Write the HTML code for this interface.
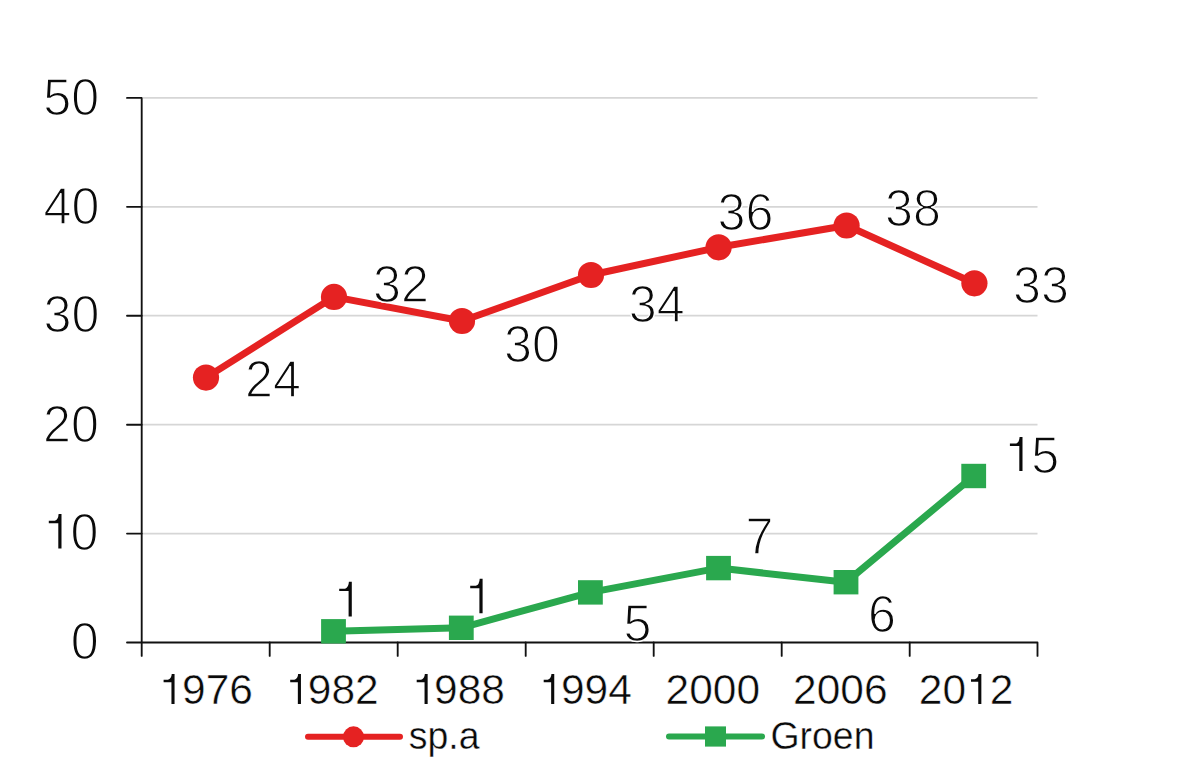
<!DOCTYPE html><html><head><meta charset="utf-8"><style>html,body{margin:0;padding:0;background:#fff;width:1200px;height:760px;overflow:hidden}svg{display:block}</style></head><body>
<svg width="1200" height="760" viewBox="0 0 1200 760">
<style>text{font-family:"Liberation Sans",sans-serif;fill:#0a0a0a;stroke:#fff}.h{fill:none;stroke:none}</style>
<line x1="143" y1="533.6" x2="1037.5" y2="533.6" stroke="#d6d6d6" stroke-width="1.7"/>
<line x1="143" y1="424.7" x2="1037.5" y2="424.7" stroke="#d6d6d6" stroke-width="1.7"/>
<line x1="143" y1="315.7" x2="1037.5" y2="315.7" stroke="#d6d6d6" stroke-width="1.7"/>
<line x1="143" y1="206.8" x2="1037.5" y2="206.8" stroke="#d6d6d6" stroke-width="1.7"/>
<line x1="143" y1="97.9" x2="1037.5" y2="97.9" stroke="#d6d6d6" stroke-width="1.7"/>
<path d="M127 97.9 H141.7 V655.9" stroke="#111" stroke-width="1.85" fill="none" stroke-linecap="round" stroke-linejoin="round"/>
<path d="M127 642.5 H1037.5 V655.9" stroke="#111" stroke-width="1.85" fill="none" stroke-linecap="round" stroke-linejoin="round"/>
<line x1="127" y1="533.6" x2="141.7" y2="533.6" stroke="#111" stroke-width="1.85" fill="none" stroke-linecap="round" stroke-linejoin="round"/>
<line x1="127" y1="424.7" x2="141.7" y2="424.7" stroke="#111" stroke-width="1.85" fill="none" stroke-linecap="round" stroke-linejoin="round"/>
<line x1="127" y1="315.7" x2="141.7" y2="315.7" stroke="#111" stroke-width="1.85" fill="none" stroke-linecap="round" stroke-linejoin="round"/>
<line x1="127" y1="206.8" x2="141.7" y2="206.8" stroke="#111" stroke-width="1.85" fill="none" stroke-linecap="round" stroke-linejoin="round"/>
<line x1="269.7" y1="642.5" x2="269.7" y2="655.9" stroke="#111" stroke-width="1.85" fill="none" stroke-linecap="round" stroke-linejoin="round"/>
<line x1="397.7" y1="642.5" x2="397.7" y2="655.9" stroke="#111" stroke-width="1.85" fill="none" stroke-linecap="round" stroke-linejoin="round"/>
<line x1="525.7" y1="642.5" x2="525.7" y2="655.9" stroke="#111" stroke-width="1.85" fill="none" stroke-linecap="round" stroke-linejoin="round"/>
<line x1="653.7" y1="642.5" x2="653.7" y2="655.9" stroke="#111" stroke-width="1.85" fill="none" stroke-linecap="round" stroke-linejoin="round"/>
<line x1="781.7" y1="642.5" x2="781.7" y2="655.9" stroke="#111" stroke-width="1.85" fill="none" stroke-linecap="round" stroke-linejoin="round"/>
<line x1="909.7" y1="642.5" x2="909.7" y2="655.9" stroke="#111" stroke-width="1.85" fill="none" stroke-linecap="round" stroke-linejoin="round"/>
<polyline points="206.0,377.6 334.0,296.9 462,321 591,275 718.6,247.3 846.6,225.5 974.4,283.3" fill="none" stroke="#e52222" stroke-width="7" stroke-linejoin="round"/>
<circle cx="206.0" cy="377.6" r="13.1" fill="#e52222"/>
<circle cx="334.0" cy="296.9" r="13.1" fill="#e52222"/>
<circle cx="462" cy="321" r="13.1" fill="#e52222"/>
<circle cx="591" cy="275" r="13.1" fill="#e52222"/>
<circle cx="718.6" cy="247.3" r="13.1" fill="#e52222"/>
<circle cx="846.6" cy="225.5" r="13.1" fill="#e52222"/>
<circle cx="974.4" cy="283.3" r="13.1" fill="#e52222"/>
<polyline points="333.5,631.3 461.3,627.8 590.4,592.4 718.5,568.1 846,582.2 973.7,476" fill="none" stroke="#2aa84e" stroke-width="7" stroke-linejoin="round"/>
<rect x="321.1" y="619.1" width="24.8" height="24.4" fill="#2aa84e"/>
<rect x="448.9" y="615.6" width="24.8" height="24.4" fill="#2aa84e"/>
<rect x="578.0" y="580.2" width="24.8" height="24.4" fill="#2aa84e"/>
<rect x="706.1" y="555.9" width="24.8" height="24.4" fill="#2aa84e"/>
<rect x="833.6" y="570.0" width="24.8" height="24.4" fill="#2aa84e"/>
<rect x="961.3" y="463.8" width="24.8" height="24.4" fill="#2aa84e"/>
<line x1="308" y1="736.7" x2="400" y2="736.7" stroke="#e52222" stroke-width="6" stroke-linecap="round"/>
<circle cx="353.5" cy="736.8" r="10.5" fill="#e52222"/>
<line x1="669" y1="736.4" x2="762" y2="736.4" stroke="#2aa84e" stroke-width="6" stroke-linecap="round"/>
<rect x="705" y="726.4" width="21" height="20.2" fill="#2aa84e"/>
<text transform="translate(43.25,114.50) scale(0.975,1)" font-size="51.5" stroke-width="1.4">50</text>
<text transform="translate(43.50,223.95) scale(0.975,1)" font-size="51.5" stroke-width="1.4">40</text>
<text transform="translate(43.50,332.20) scale(0.975,1)" font-size="51.5" stroke-width="1.4">30</text>
<text transform="translate(43.00,441.80) scale(0.975,1)" font-size="51.5" stroke-width="1.4">20</text>
<text transform="translate(42.65,549.75) scale(0.975,1)" font-size="51.5" stroke-width="1.4"><tspan class="h">1</tspan>0</text>
<path d="M61.50,514.00 L61.50,548.40 L58.30,548.40 L58.30,523.20 L48.80,523.20 L48.80,520.80 L54.80,520.80 Q58.30,519.80 58.60,514.00 Z" fill="#0a0a0a"/>
<text transform="translate(70.75,659.20) scale(0.975,1)" font-size="51.5" stroke-width="1.4">0</text>
<text transform="translate(244.95,396.55) scale(0.975,1)" font-size="51.5" stroke-width="1.4">24</text>
<text transform="translate(373.05,301.60) scale(0.975,1)" font-size="51.5" stroke-width="1.4">32</text>
<text transform="translate(504.05,362.45) scale(0.975,1)" font-size="51.5" stroke-width="1.4">30</text>
<text transform="translate(628.75,322.15) scale(0.975,1)" font-size="51.5" stroke-width="1.4">34</text>
<text transform="translate(717.50,229.62) scale(0.975,1)" font-size="51.5" stroke-width="1.4">36</text>
<text transform="translate(884.95,226.00) scale(0.975,1)" font-size="51.5" stroke-width="1.4">38</text>
<text transform="translate(1013.00,302.65) scale(0.975,1)" font-size="51.5" stroke-width="1.4">33</text>
<path d="M351.80,581.80 L351.80,616.50 L348.60,616.50 L348.60,591.10 L339.20,591.10 L339.20,588.70 L345.10,588.70 Q348.60,587.70 348.90,581.80 Z" fill="#0a0a0a"/>
<path d="M482.60,578.80 L482.60,613.20 L479.40,613.20 L479.40,588.20 L470.20,588.20 L470.20,585.80 L475.90,585.80 Q479.40,584.80 479.70,578.80 Z" fill="#0a0a0a"/>
<text transform="translate(623.55,641.25) scale(0.975,1)" font-size="51.5" stroke-width="1.4">5</text>
<text transform="translate(745.60,553.85) scale(0.975,1)" font-size="51.5" stroke-width="1.4">7</text>
<text transform="translate(867.90,632.35) scale(0.975,1)" font-size="51.5" stroke-width="1.4">6</text>
<text transform="translate(1003.20,472.70) scale(0.975,1)" font-size="51.5" stroke-width="1.4"><tspan class="h">1</tspan>5</text>
<path d="M1022.50,436.90 L1022.50,471.10 L1019.30,471.10 L1019.30,446.00 L1009.90,446.00 L1009.90,443.60 L1015.80,443.60 Q1019.30,442.60 1019.60,436.90 Z" fill="#0a0a0a"/>
<text transform="translate(158.35,703.55) scale(1.0,1)" font-size="42.5" stroke-width="0.5"><tspan class="h">1</tspan>976</text>
<path d="M174.55,674.00 L174.55,704.00 L171.45,704.00 L171.45,682.25 L163.60,682.25 L163.60,679.75 L167.95,679.75 Q171.45,678.75 171.75,674.00 Z" fill="#0a0a0a"/>
<text transform="translate(284.20,703.55) scale(1.0,1)" font-size="42.5" stroke-width="0.5"><tspan class="h">1</tspan>982</text>
<path d="M300.95,674.00 L300.95,704.00 L297.85,704.00 L297.85,682.25 L290.20,682.25 L290.20,679.75 L294.35,679.75 Q297.85,678.75 298.15,674.00 Z" fill="#0a0a0a"/>
<text transform="translate(410.40,703.55) scale(1.0,1)" font-size="42.5" stroke-width="0.5"><tspan class="h">1</tspan>988</text>
<path d="M427.65,674.00 L427.65,704.00 L424.55,704.00 L424.55,682.25 L416.70,682.25 L416.70,679.75 L421.05,679.75 Q424.55,678.75 424.85,674.00 Z" fill="#0a0a0a"/>
<text transform="translate(537.25,703.55) scale(1.0,1)" font-size="42.5" stroke-width="0.5"><tspan class="h">1</tspan>994</text>
<path d="M554.25,674.00 L554.25,704.00 L551.15,704.00 L551.15,682.25 L543.70,682.25 L543.70,679.75 L547.65,679.75 Q551.15,678.75 551.45,674.00 Z" fill="#0a0a0a"/>
<text transform="translate(665.55,703.55) scale(1.0,1)" font-size="42.5" stroke-width="0.5">2000</text>
<text transform="translate(793.00,703.55) scale(1.0,1)" font-size="42.5" stroke-width="0.5">2006</text>
<text transform="translate(918.75,703.55) scale(1.0,1)" font-size="42.5" stroke-width="0.5">20<tspan class="h">1</tspan>2</text>
<path d="M981.35,674.00 L981.35,704.00 L978.25,704.00 L978.25,681.75 L971.00,681.75 L971.00,679.25 L974.75,679.25 Q978.25,678.25 978.55,674.00 Z" fill="#0a0a0a"/>
<text transform="translate(408.80,749.20) scale(0.96,1)" font-size="39" stroke-width="0.4">sp.a</text>
<text transform="translate(770.45,749.15) scale(0.96,1)" font-size="39" stroke-width="0.4">Groen</text>
</svg></body></html>
